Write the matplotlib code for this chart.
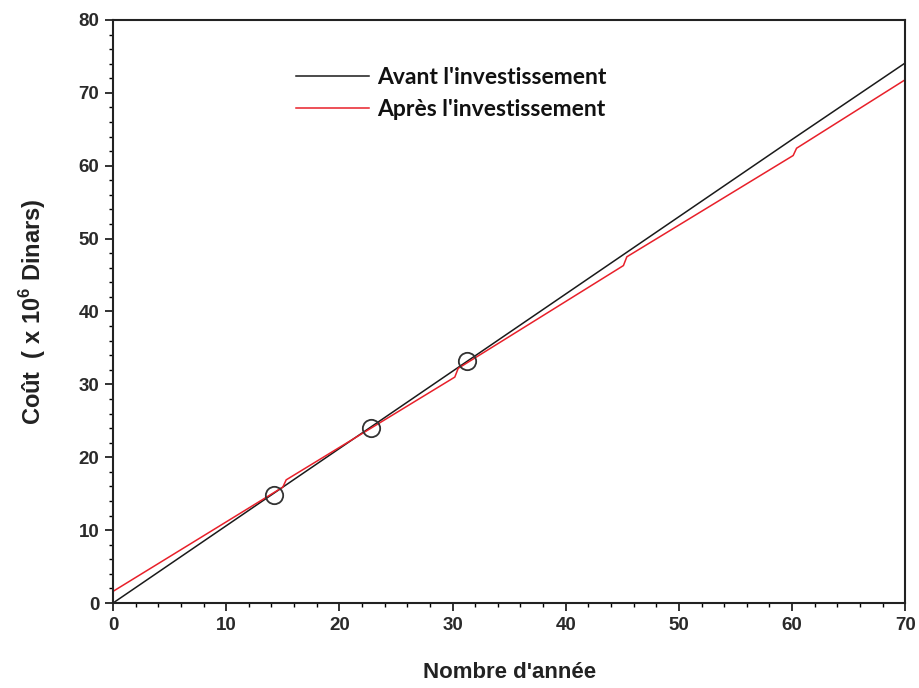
import matplotlib
matplotlib.use("Agg")
import matplotlib.pyplot as plt
from matplotlib.ticker import MultipleLocator

plt.rcParams['font.family'] = ['Liberation Sans', 'DejaVu Sans']
plt.rcParams['mathtext.fontset'] = 'custom'
plt.rcParams['mathtext.rm'] = 'Liberation Sans'
plt.rcParams['mathtext.bf'] = 'Liberation Sans:bold'

# Data
avant_x = [0, 15, 30, 45, 60, 70]
avant_y = [0.0, 15.9, 31.8, 47.7, 63.6, 74.1]

apres_x = [0, 15.0, 15.3, 30.2, 30.5, 45.1, 45.4, 60.1, 60.4, 70]
apres_y = [1.6, 15.9, 16.9, 31.0, 32.2, 46.3, 47.5, 61.4, 62.4, 71.8]

cross_x = [14.2, 22.8, 31.3]
cross_y = [14.8, 24.0, 33.2]

labels = ["Avant l'investissement", "Après l'investissement"]

fig = plt.figure(figsize=(9.19, 6.88), dpi=100)
ax = fig.add_axes([0.123, 0.1235, 0.862, 0.8475])

ax.plot(avant_x, avant_y, color='#1a1a1a', lw=1.1, label=labels[0])
ax.plot(apres_x, apres_y, color='#e8202a', lw=1.1, label=labels[1])
ax.plot(cross_x, cross_y, 'o', mfc='none', mec='#333333', mew=1.3, ms=12.5, ls='none')

ax.set_xlim(0, 70)
ax.set_ylim(0, 80)
ax.xaxis.set_major_locator(MultipleLocator(10))
ax.xaxis.set_minor_locator(MultipleLocator(2))
ax.yaxis.set_major_locator(MultipleLocator(10))
ax.yaxis.set_minor_locator(MultipleLocator(2))
ax.tick_params(which='major', direction='out', length=6, width=1.3, labelsize=13.5,
               colors='#222222', top=False, right=False, pad=4)
ax.tick_params(which='minor', direction='out', length=3, width=1.0, top=False, right=False)
for lab in ax.get_xticklabels() + ax.get_yticklabels():
    lab.set_fontweight('bold')
    lab.set_color('#2a2a2a')
for s in ax.spines.values():
    s.set_linewidth(1.5)
    s.set_color('#222222')

ax.set_xlabel("Nombre d'année", fontsize=16, fontweight='bold', color='#222222', labelpad=20)
ax.set_ylabel(r"Coût  ( x 10$^{\mathbf{6}}$ Dinars)", fontsize=17, fontweight='bold',
              color='#222222', labelpad=22)

leg = ax.legend(loc='upper left', bbox_to_anchor=(0.205, 0.955), frameon=False,
                handlelength=3.2, handletextpad=0.35, labelspacing=0.5,
                prop={'family': 'Lato', 'weight': 'bold', 'size': 16.5})
for t in leg.get_texts():
    t.set_color('#111111')

fig.savefig('out.png', dpi=100)
